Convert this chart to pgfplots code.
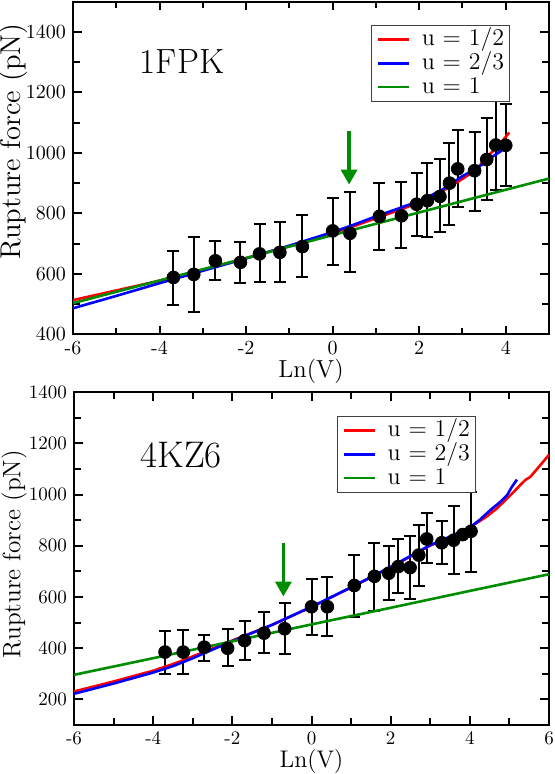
\documentclass[border=0pt]{standalone}
\usepackage{pgfplots}
\pgfplotsset{compat=1.18}
\usepackage{pgfplotstable}
\usetikzlibrary{arrows.meta}
\definecolor{mygreen}{RGB}{0,140,0}

% ---------- data: 1FPK ----------
\pgfplotstableread{
x y ep em
-3.68 588 86 92
-3.21 598 124 123
-2.71 643 64 65
-2.13 638 67 68
-1.69 666 100 94
-1.22 671 99 99
-0.70 690 104 99
0.00 742 108 114
0.40 734 135 129
1.08 790 109 110
1.59 792 113 108
1.94 830 103 106
2.19 842 124 121
2.48 856 123 118
2.70 900 133 137
2.89 947 128 125
3.28 941 129 132
3.56 978 138 134
3.77 1026 147 148
4.00 1025 137 135
}\ptsA
\pgfplotstableread{
x y
-6 513
-5 545
-4 577
-3 613
-2 652
-1 692
0 735
0.5 758
1 784
1.5 809
2 836
2.5 870
3 914
3.3 942
3.62 994
3.85 1027
4.08 1067
}\redA
\pgfplotstableread{
x y
-6 486
-5 527
-4 569
-3 610
-2 651
-1 693
0 738
0.5 763
1 790
1.5 815
2 841
2.5 875
3 923
3.3 947
3.5 966
3.7 988
3.88 1005
4.0 1022
}\blueA
\pgfplotstableread{
x y
-6 503
-4 578
-2 652
0 728
2 803
4 878
5 915
}\greenA

% ---------- data: 4KZ6 ----------
\pgfplotstableread{
x y ep em
-3.70 385 84 85
-3.24 385 87 84
-2.71 404 48 52
-2.12 400 77 69
-1.69 430 76 75
-1.20 459 83 77
-0.68 476 100 98
0.00 562 107 110
0.40 562 118 116
1.08 645 119 122
1.59 681 130 135
1.95 693 108 104
2.19 719 107 102
2.49 715 122 121
2.71 764 117 119
2.91 827 100 93
3.29 812 85 84
3.59 822 133 132
3.82 844 0 0
4.03 857 154 158
}\ptsB
\pgfplotstableread{
x y
-6 231
-5 270
-4 312
-3.5 338
-3 368
-2 430
-1 491
0 561
1 637
2 716
3 801
3.5 835
4.0 872
4.18 890
4.43 915
4.68 946
4.94 985
5.11 1011
5.27 1037
5.40 1057
5.53 1070
5.74 1108
6.0 1156
}\redB
\pgfplotstableread{
x y
-6 222
-5 262
-4 305
-3.5 330
-3 361
-2 428
-1 491
0 562
1 638
2 718
3 803
3.5 836
4.0 872
4.26 903
4.52 940
4.77 972
4.94 998
5.06 1030
5.19 1059
}\blueB
\pgfplotstableread{
x y
-6 296
-4 361
-2 427
0 493
2 558
4 624
6 689
}\greenB

\pgfplotsset{
  common/.style={
    scale only axis,
    axis line style={line width=1.1pt},
    tick style={black, line width=1pt},
    major tick length=4.3pt, minor tick length=3.3pt,
    minor x tick num=1, minor y tick num=1,
    /pgf/number format/assume math mode=true,
    /pgf/number format/1000 sep={},
    legend cell align=left,
    legend image code/.code={\draw[##1] (0pt,0pt) -- (15.3pt,0pt);},
    legend style={anchor=north east, draw=black!75, line width=0.5pt, fill=white,
      font=\fontsize{12}{13}\selectfont, inner xsep=2.7pt, inner ysep=1.2pt,
      /tikz/column sep=5.85pt,
      nodes={inner sep=0pt, text height=8.9pt, text depth=2.95pt}},
  },
  curve/.style={line width=1.3pt, no markers},
  pts/.style={only marks, mark=*, black, mark size=3.2pt, forget plot,
    mark options={draw=black, fill=black},
    error bars/.cd, y dir=both, y explicit,
    error bar style={line width=1pt, black},
    error mark options={rotate=90, mark size=3pt, line width=1pt, black}},
}

\begin{document}
\begin{tikzpicture}
\useasboundingbox (0,0) rectangle (277.5pt,387pt);

% ---------------- top panel ----------------
\begin{axis}[common,
  at={(36.5pt,219.85pt)}, anchor=south west,
  width=238pt, height=166.3pt,
  xmin=-6, xmax=5, ymin=400, ymax=1500,
  xtick={-6,-4,...,4}, ytick={400,600,...,1400},
  ticklabel style={font=\fontsize{10}{12}\selectfont},
  xlabel={Ln(V)}, ylabel={Rupture force (pN)},
  xlabel style={at={(axis description cs:0.5,0)}, anchor=base, yshift=-21.5pt, font=\fontsize{12.3}{14}\selectfont},
  ylabel style={at={(axis description cs:-0.1252,0.580)}, anchor=center, font=\fontsize{14.3}{17}\selectfont},
  legend style={at={(rel axis cs:0.918,0.930)}},
]
\addplot[pts] table[x=x, y=y, y error plus=ep, y error minus=em] {\ptsA};
\addplot[curve, red] table {\redA};
\addlegendentry{u = 1/2}
\addplot[curve, blue] table {\blueA};
\addlegendentry{u = 2/3}
\addplot[curve, mygreen] table {\greenA};
\addlegendentry{u = 1}
\draw[mygreen, line width=1.7pt, -{Triangle[width=8pt,length=7.5pt]}] (axis cs:0.38,1073) -- (axis cs:0.38,895);
\node[font=\fontsize{17.5}{20}\selectfont] at (axis cs:-3.48,1302) {1FPK};
\end{axis}

% ---------------- bottom panel ----------------
\begin{axis}[common,
  at={(37pt,24.5pt)}, anchor=south west,
  width=237.5pt, height=166.35pt,
  xmin=-6, xmax=6, ymin=100, ymax=1400,
  xtick={-6,-4,...,6}, ytick={200,400,...,1400},
  ticklabel style={font=\fontsize{9.5}{11}\selectfont},
  xlabel={Ln(V)}, ylabel={Rupture force (pN)},
  xlabel style={at={(axis description cs:0.5,0)}, anchor=base, yshift=-21.5pt, font=\fontsize{12}{14}\selectfont},
  ylabel style={at={(axis description cs:-0.126,0.514)}, anchor=center, font=\fontsize{12.6}{15}\selectfont},
  legend style={at={(rel axis cs:0.846,0.929)}},
]
\addplot[pts] table[x=x, y=y, y error plus=ep, y error minus=em] {\ptsB};
\addplot[curve, red] table {\redB};
\addlegendentry{u = 1/2}
\addplot[curve, blue] table {\blueB};
\addlegendentry{u = 2/3}
\addplot[curve, mygreen] table {\greenB};
\addlegendentry{u = 1}
\draw[mygreen, line width=1.7pt, -{Triangle[width=8pt,length=7.5pt]}] (axis cs:-0.71,812) -- (axis cs:-0.71,602);
\node[font=\fontsize{18.5}{21}\selectfont] at (axis cs:-3.29,1154) {4KZ6};
\end{axis}
\end{tikzpicture}
\end{document}
